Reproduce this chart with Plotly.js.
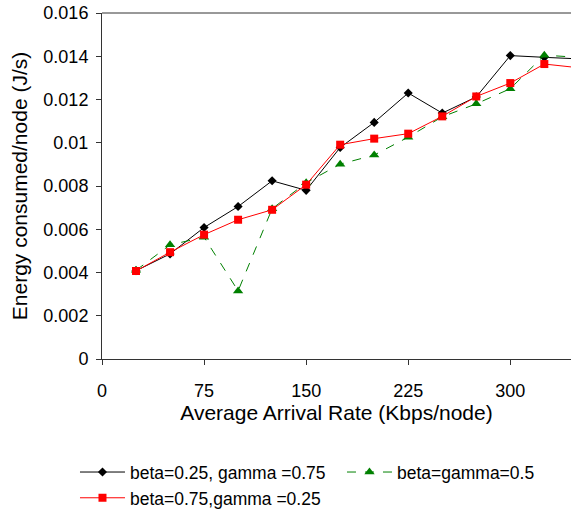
<!DOCTYPE html>
<html>
<head>
<meta charset="utf-8">
<script src="https://cdn.plot.ly/plotly-3.0.1.min.js"></script>
<style>html,body{margin:0;padding:0;background:#fff}#chart{width:571px;height:509px}</style>
</head>
<body>
<div id="chart"></div>
<script>
var rates = [25, 50, 75, 100, 125, 150, 175, 200, 225, 250, 275, 300, 325, 350];
var beta025 = [0.00408, 0.00486, 0.00608, 0.00705, 0.00824, 0.00780, 0.00978, 0.01094, 0.01230, 0.01137, 0.01212, 0.01403, 0.01395, 0.01388];
var betaEq = [0.00410, 0.00528, 0.00563, 0.00315, 0.00695, 0.00815, 0.00901, 0.00943, 0.01026, 0.01120, 0.01180, 0.01250, 0.01405, 0.01395];
var beta075 = [0.00407, 0.00494, 0.00575, 0.00644, 0.00690, 0.00806, 0.00991, 0.01019, 0.01042, 0.01122, 0.01214, 0.01276, 0.01364, 0.01347];
var names = ["beta=0.25, gamma =0.75", "beta=gamma=0.5", "beta=0.75,gamma =0.25"];
var xTicks = [0, 75, 150, 225, 300];
var yTicks = [0, 0.002, 0.004, 0.006, 0.008, 0.01, 0.012, 0.014, 0.016];
var yTickText = ["0", "0.002", "0.004", "0.006", "0.008", "0.01", "0.012", "0.014", "0.016"];

var font = "Liberation Sans, Arial, sans-serif";
var traces = [
  {x: rates, y: beta025, name: names[0], mode: "lines+markers",
   line: {color: "#000000", width: 1}, marker: {symbol: "diamond", size: 7, color: "#000000"}},
  {x: rates, y: betaEq, name: names[1], mode: "lines+markers",
   line: {color: "#008000", width: 1, dash: "dash"}, marker: {symbol: "triangle-up", size: 9, color: "#008000"}},
  {x: rates, y: beta075, name: names[2], mode: "lines+markers",
   line: {color: "#ff0000", width: 1}, marker: {symbol: "square", size: 8, color: "#ff0000"}}
];
var layout = {
  width: 571, height: 509,
  margin: {l: 102, r: 0, t: 13, b: 150, autoexpand: false},
  paper_bgcolor: "#ffffff", plot_bgcolor: "#ffffff",
  font: {family: font, size: 18, color: "#000000"},
  showlegend: true,
  legend: {orientation: "h", x: -0.0576, xanchor: "left", y: -0.275, yanchor: "top",
           entrywidth: 207, entrywidthmode: "pixels", itemwidth: 45,
           font: {family: font, size: 17.5, color: "#000000"}, traceorder: "normal"},
  xaxis: {range: [0, 344.6], tickvals: xTicks, ticktext: xTicks.map(String), showgrid: false, zeroline: false,
          showline: true, linecolor: "#333333", linewidth: 1, ticks: "outside", ticklen: 5, tickcolor: "#333333",
          tickfont: {family: font, size: 18}, ticklabelstandoff: 10,
          title: {text: "Average Arrival Rate (Kbps/node)", font: {family: font, size: 21}, standoff: 2}},
  yaxis: {range: [0, 0.016], tickvals: yTicks, ticktext: yTickText, showgrid: false, zeroline: false,
          showline: true, linecolor: "#333333", linewidth: 1, ticks: "outside", ticklen: 5, tickcolor: "#333333",
          tickfont: {family: font, size: 18}, ticklabelstandoff: 4,
          title: {text: "Energy consumed/node (J/s)", font: {family: font, size: 21}, standoff: 10}},
  shapes: [{type: "line", xref: "paper", yref: "paper", x0: 0, x1: 1.05, y0: 1, y1: 1,
            line: {color: "#333333", width: 1}}]
};
Plotly.newPlot("chart", traces, layout, {displayModeBar: false, staticPlot: true});
</script>
</body>
</html>
